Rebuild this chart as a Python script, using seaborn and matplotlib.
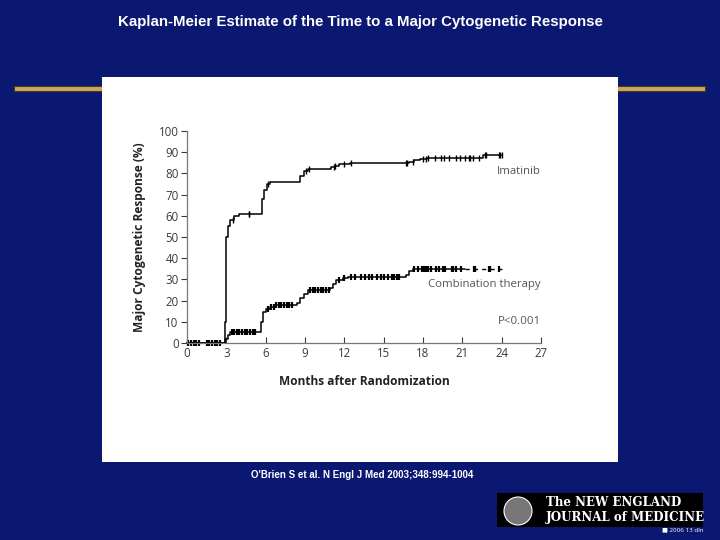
import numpy as np
import pandas as pd
import seaborn as sns
import matplotlib
matplotlib.use("Agg")
import matplotlib.pyplot as plt
from matplotlib.patches import Rectangle, Ellipse

# curve data (months, % responders)
imat_t = [0, 2.8, 2.9, 3.0, 3.1, 3.3, 3.6, 4.0, 5.6, 5.75, 5.9, 6.1, 6.3, 8.4, 8.6, 8.9, 9.2,
          11.0, 11.3, 11.6, 12.4, 16.7, 16.9, 17.3, 17.8, 18.3, 22.6, 24.0]
imat_y = [0, 0, 10, 50, 55, 58, 60, 61, 61, 68, 72, 75, 76, 76, 79, 81, 82,
          83, 83.5, 84.5, 85, 85, 85.5, 86.5, 87, 87.5, 88.5, 88.5]
imat_cens = [3.5, 4.7, 4.75, 6.2, 9.1, 9.3, 11.2, 11.3, 12.0, 12.5, 16.7, 16.8, 17.2, 18.0,
             18.2, 18.4, 18.9, 19.4, 19.6, 20.0, 20.5, 20.8, 21.2, 21.5, 21.6, 21.8, 22.3,
             22.7, 22.8, 23.8, 23.9, 24.0]

comb_t = [0, 2.75, 2.9, 3.1, 3.3, 5.5, 5.65, 5.8, 6.0, 6.3, 6.7, 8.2, 8.4, 8.6, 8.9, 9.2,
          10.9, 11.1, 11.4, 11.9, 12.3, 16.5, 16.7, 16.9, 17.2, 24.0]
comb_y = [0, 0, 2, 4, 5, 5, 10, 14.5, 16, 17, 18, 18, 19, 21, 23, 25,
          26, 28, 29.5, 30.5, 31, 31, 32, 34, 35, 35]
comb_cens = [0.1, 0.3, 0.5, 0.7, 0.9, 1.5, 1.7, 1.9, 2.1, 2.3, 2.5,
             3.4, 3.6, 3.8, 4.0, 4.2, 4.4, 4.6, 4.8, 5.0, 5.2,
             6.2, 6.4, 6.6, 6.8, 7.0, 7.2, 7.4, 7.6, 7.8, 8.0,
             9.4, 9.6, 9.8, 10.0, 10.2, 10.4, 10.6, 10.8,
             11.6, 12.0, 12.5, 12.8, 13.3, 13.6, 13.9, 14.1, 14.5, 14.8, 15.0, 15.3, 15.6,
             15.8, 16.0, 16.2,
             17.3, 17.6, 17.9, 18.1, 18.2, 18.4, 18.6, 19.0, 19.2, 19.5, 19.7, 20.2, 20.3,
             20.5, 20.9, 21.9, 22.0, 23.0, 23.1, 23.8]
dash_from = 21.2

x_ticks = list(range(0, 28, 3))
y_ticks = list(range(0, 101, 10))

navy = "#0A1872"
sns.set_style("white")
plt.rcParams["font.family"] = ["Open Sans", "DejaVu Sans"]


def step_at(t_arr, y_arr, pts):
    idx = np.searchsorted(np.array(t_arr), np.array(pts), side="right") - 1
    return np.array(y_arr)[idx]


fig = plt.figure(figsize=(7.2, 5.4), dpi=100, facecolor=navy)

# slide decorations
fig.text(0.5, 1 - 22 / 540, "Kaplan-Meier Estimate of the Time to a Major Cytogenetic Response",
         ha="center", va="center", color="white", fontsize=10.8, fontweight="bold",
         family="Liberation Sans")
fig.add_artist(Rectangle((14 / 720, 1 - 91 / 540), 691 / 720, 5 / 540, transform=fig.transFigure,
                         facecolor="#C9A865", edgecolor="#4a3c18", lw=0.8, zorder=-2))
fig.add_artist(Rectangle((102 / 720, 1 - 462 / 540), 516 / 720, 385 / 540,
                         transform=fig.transFigure, facecolor="white", edgecolor="none",
                         zorder=-1))
fig.text(362 / 720, 1 - 475 / 540, "O'Brien S et al. N Engl J Med 2003;348:994-1004",
         ha="center", va="center", color="white", fontsize=7, fontweight="bold",
         family="Liberation Sans")

# NEJM logo block
fig.add_artist(Rectangle((497 / 720, 1 - 527 / 540), 206 / 720, 34 / 540,
                         transform=fig.transFigure, facecolor="black", edgecolor="none"))
fig.add_artist(Ellipse((518 / 720, 1 - 511 / 540), 28 / 720, 28 / 540,
                       transform=fig.transFigure, facecolor="#777777", edgecolor="white",
                       lw=0.8))
fig.text(546 / 720, 1 - 503 / 540, "The NEW ENGLAND", color="white", fontsize=8.6,
         family="DejaVu Serif", fontweight="bold", va="center", ha="left")
fig.text(546 / 720, 1 - 518 / 540, "JOURNAL of MEDICINE", color="white", fontsize=8.6,
         family="DejaVu Serif", fontweight="bold", va="center", ha="left")
fig.text(662 / 720, 1 - 530 / 540, "\u25a0 2006 13 dln", color="white", fontsize=4.5,
         va="center", ha="left")

ax = fig.add_axes([187 / 720, 1 - 343 / 540, 354 / 720, 212 / 540])
ax.set_facecolor("none")
ax.set_zorder(5)

imat_df = pd.DataFrame({"month": imat_t, "resp": imat_y})
comb_df = pd.DataFrame({"month": comb_t, "resp": comb_y})
solid = comb_df[comb_df["month"] <= dash_from]
solid = pd.concat([solid, pd.DataFrame({"month": [dash_from],
                                        "resp": step_at(comb_t, comb_y, [dash_from])})])
dashed = pd.DataFrame({"month": [dash_from, comb_t[-1]],
                       "resp": step_at(comb_t, comb_y, [dash_from, comb_t[-1]])})

sns.lineplot(data=imat_df, x="month", y="resp", drawstyle="steps-post", color="black",
             lw=1.1, estimator=None, ax=ax, clip_on=False)
sns.lineplot(data=solid, x="month", y="resp", drawstyle="steps-post", color="black",
             lw=1.1, estimator=None, ax=ax, clip_on=False)
sns.lineplot(data=dashed, x="month", y="resp", color="black", lw=1.0, ax=ax,
             linestyle=(0, (3, 3)), clip_on=False)

ic = pd.DataFrame({"month": imat_cens, "resp": step_at(imat_t, imat_y, imat_cens)})
cc = pd.DataFrame({"month": comb_cens, "resp": step_at(comb_t, comb_y, comb_cens)})
sns.scatterplot(data=ic, x="month", y="resp", marker="|", s=18, color="black",
                linewidth=1.0, ax=ax, clip_on=False)
sns.scatterplot(data=cc, x="month", y="resp", marker="|", s=18, color="black",
                linewidth=1.6, ax=ax, clip_on=False)

ax.set_xlim(0, 27)
ax.set_ylim(0, 100)
ax.set_xticks(x_ticks)
ax.set_yticks(y_ticks)
ax.tick_params(axis="both", labelsize=8.3, colors="#3a3a3a", width=0.8, left=True, bottom=True)
ax.tick_params(axis="y", direction="out", length=4, pad=2)
ax.tick_params(axis="x", direction="in", length=4, pad=3)
for s in ["top", "right"]:
    ax.spines[s].set_visible(False)
for s in ["left", "bottom"]:
    ax.spines[s].set_color("#777777")
    ax.spines[s].set_linewidth(0.9)

ax.set_xlabel("Months after Randomization", fontsize=8.6, fontweight="bold", color="#222222",
              labelpad=11)
ax.set_ylabel("Major Cytogenetic Response (%)", fontsize=8.6, fontweight="bold",
              color="#222222", labelpad=9)

ax.text(27, 80.7, "Imatinib", ha="right", va="center", fontsize=8.2, color="#555555")
ax.text(27, 27.4, "Combination therapy", ha="right", va="center", fontsize=8.2,
        color="#555555")
ax.text(27, 10, "P<0.001", ha="right", va="center", fontsize=8.2, color="#555555")

fig.savefig("out.png", dpi=100, facecolor=navy)
